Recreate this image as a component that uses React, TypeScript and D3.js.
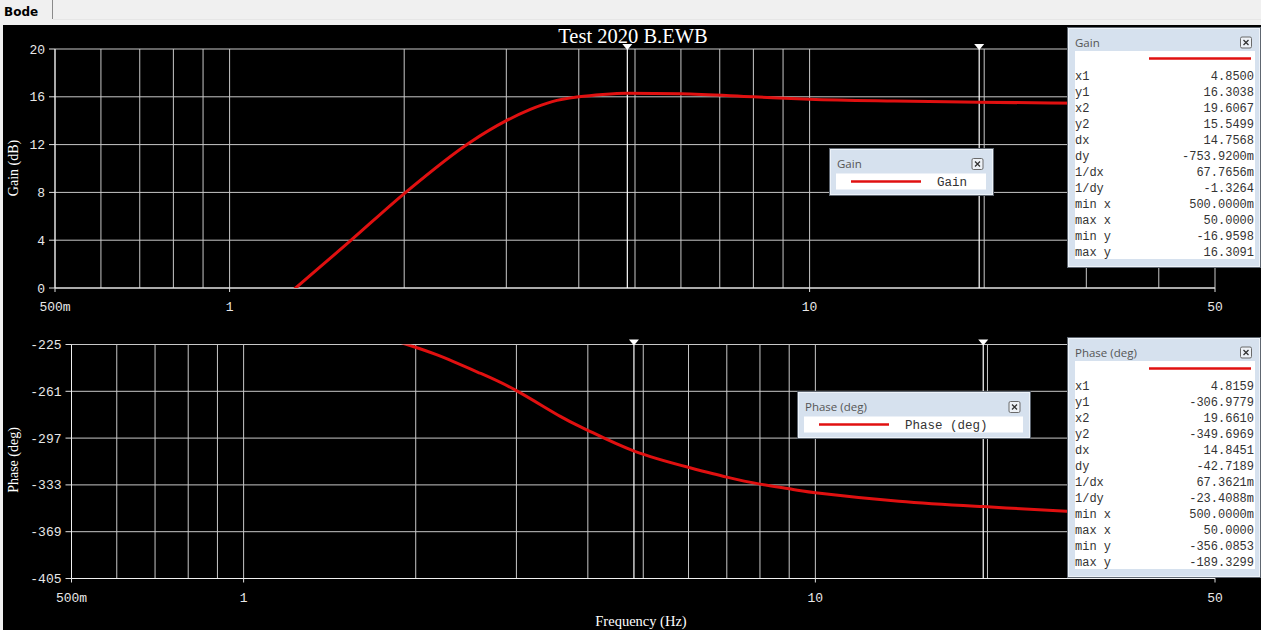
import React from "react";
import * as d3 from "d3";

// ---------- data ----------
const gainFreq = [0.5, 0.7, 1.0, 1.3, 1.62, 2.0, 2.6, 3.0, 3.3, 3.6, 4.0, 4.4, 4.85, 6.0, 8.0, 10, 14, 19.6, 30, 50];
const gainDb = [-16.96, -11.2, -4.8, 0.0, 4.0, 7.9, 12.2, 14.0, 14.95, 15.6, 16.0, 16.2, 16.3, 16.25, 16.0, 15.8, 15.65, 15.55, 15.45, 15.35];

const phaseFreq = [0.5, 0.7, 1.0, 1.5, 1.9, 2.18, 2.59, 3.0, 3.58, 4.0, 4.82, 6.0, 7.0, 8.0, 9.0, 10, 14, 19.66, 27.5, 35, 50];
const phaseDeg = [-189.3, -192.5, -199, -212, -224, -233, -247, -260.5, -280.3, -291, -307, -319.5, -327, -332.4, -336, -339, -345.5, -349.7, -353.3, -355, -356.1];

const freqLabelValues = [0.5, 1, 10, 50];
const freqLabels = ["500m", "1", "10", "50"];
const gainTicks = [0, 4, 8, 12, 16, 20];
const phaseTicks = [-405, -369, -333, -297, -261, -225];

const gainCursors = [4.85, 19.6067];
const phaseCursors = [4.8159, 19.661];

const tableLabels = ["x1", "y1", "x2", "y2", "dx", "dy", "1/dx", "1/dy", "min x", "max x", "min y", "max y"];
const gainTableValues = ["4.8500", "16.3038", "19.6067", "15.5499", "14.7568", "-753.9200m", "67.7656m", "-1.3264", "500.0000m", "50.0000", "-16.9598", "16.3091"];
const phaseTableValues = ["4.8159", "-306.9779", "19.6610", "-349.6969", "14.8451", "-42.7189", "67.3621m", "-23.4088m", "500.0000m", "50.0000", "-356.0853", "-189.3299"];

// ---------- style ----------
const RED = "#e01010";
const GRID = "#c8c8c8";
const MONO = "'Liberation Mono', 'Courier New', monospace";
const SERIF = "'Liberation Serif', 'Times New Roman', serif";
const SANS = "'Open Sans', 'Noto Sans', sans-serif";

type PlotProps = {
  id: string;
  x0: number; x1: number; y0: number; y1: number;
  yDomain: [number, number];
  yTicks: number[];
  freqs: number[]; vals: number[];
  cursors: number[];
  yLabel: string;
  labelY: number;
  curve: d3.CurveFactory;
};

function Plot(p: PlotProps) {
  const x = d3.scaleLog().domain([0.5, 50]).range([p.x0, p.x1]);
  const y = d3.scaleLinear().domain(p.yDomain).range([p.y1, p.y0]);
  const gridX = x.ticks();
  const line = d3.line<number>().x((_, i) => x(p.freqs[i])).y((v) => y(v)).curve(p.curve);
  return (
    <g>
      <defs>
        <clipPath id={p.id}>
          <rect x={p.x0} y={p.y0} width={p.x1 - p.x0} height={p.y1 - p.y0} />
        </clipPath>
      </defs>
      {gridX.map((f, i) => (
        <line key={"gx" + i} x1={x(f)} x2={x(f)} y1={p.y0} y2={p.y1} stroke={GRID} strokeWidth={1} />
      ))}
      {p.yTicks.map((t, i) => (
        <g key={"gy" + i}>
          <line x1={p.x0} x2={p.x1} y1={y(t)} y2={y(t)} stroke={GRID} strokeWidth={1} />
          <line x1={p.x0 - 6} x2={p.x0} y1={y(t)} y2={y(t)} stroke="#e0e0e0" />
          <text x={p.x0 - 10} y={y(t)} dy="0.35em" textAnchor="end" fill="#e8e8e8" fontFamily={MONO} fontSize={13}>{t}</text>
        </g>
      ))}
      <line x1={p.x0} x2={p.x0} y1={p.y0} y2={p.y1} stroke="#f0f0f0" />
      <line x1={p.x0} x2={p.x1} y1={p.y1} y2={p.y1} stroke="#f0f0f0" />
      {freqLabelValues.map((f, i) => (
        <g key={"xl" + i}>
          <line x1={x(f)} x2={x(f)} y1={p.y1} y2={p.y1 + 4} stroke="#e0e0e0" />
          <text x={x(f)} y={p.y1 + 23} textAnchor="middle" fill="#e8e8e8" fontFamily={MONO} fontSize={13}>{freqLabels[i]}</text>
        </g>
      ))}
      {p.cursors.map((c, i) => (
        <g key={"c" + i}>
          <line x1={x(c)} x2={x(c)} y1={p.y0} y2={p.y1} stroke="#ffffff" strokeWidth={1.2} />
          <path d={`M${x(c) - 5},${p.y0 - 5} L${x(c) + 5},${p.y0 - 5} L${x(c)},${p.y0 + 1} Z`} fill="#ffffff" />
        </g>
      ))}
      <path d={line(p.vals) || ""} fill="none" stroke={RED} strokeWidth={3} clipPath={`url(#${p.id})`} />
      <text transform={`translate(18,${p.labelY}) rotate(-90)`} textAnchor="middle" fill="#ffffff" fontFamily={SERIF} fontSize={14}>{p.yLabel}</text>
    </g>
  );
}

function CloseBtn({ cx, cy }: { cx: number; cy: number }) {
  return (
    <g>
      <rect x={cx - 5.5} y={cy - 5.5} width={11} height={11} rx={1.5} fill="#eef2f7" stroke="#6a6a6a" />
      <path d={`M${cx - 2.5},${cy - 2.5} L${cx + 2.5},${cy + 2.5} M${cx + 2.5},${cy - 2.5} L${cx - 2.5},${cy + 2.5}`} stroke="#333" strokeWidth={1.3} />
    </g>
  );
}

function CursorTable({ left, top, title, values }: { left: number; top: number; title: string; values: string[] }) {
  const w = 193, h = 240;
  return (
    <g>
      <rect x={left + 0.5} y={top + 0.5} width={w} height={h} fill="#d6e1ee" stroke="#5e6670" />
      <rect x={left + 1.5} y={top + 1.5} width={w - 2} height={h - 2} fill="none" stroke="#eef3f9" />
      <text x={left + 8} y={top + 15.5} dy="0.35em" fill="#555" fontFamily={SANS} fontSize={11.5}>{title}</text>
      <CloseBtn cx={left + 179} cy={top + 15.5} />
      <rect x={left + 8} y={top + 24} width={180} height={208} fill="#ffffff" />
      <line x1={left + 82} x2={left + 184} y1={top + 31.5} y2={top + 31.5} stroke={RED} strokeWidth={2.5} />
      {tableLabels.map((lab, i) => (
        <g key={i}>
          <text x={left + 8} y={top + 48.5 + i * 16} dy="0.35em" fill="#333" fontFamily={MONO} fontSize={12}>{lab}</text>
          <text x={left + 187} y={top + 48.5 + i * 16} dy="0.35em" textAnchor="end" fill="#333" fontFamily={MONO} fontSize={12}>{values[i]}</text>
        </g>
      ))}
    </g>
  );
}

function Legend({ left, top, w, title, label }: { left: number; top: number; w: number; title: string; label: string }) {
  return (
    <g>
      <rect x={left + 0.5} y={top + 0.5} width={w} height={47} fill="#d6e1ee" stroke="#5e6670" />
      <rect x={left + 1.5} y={top + 1.5} width={w - 2} height={45} fill="none" stroke="#eef3f9" />
      <text x={left + 8} y={top + 16} dy="0.35em" fill="#555" fontFamily={SANS} fontSize={11.5}>{title}</text>
      <CloseBtn cx={left + w - 15.5} cy={top + 16} />
      <rect x={left + 7} y={top + 25.5} width={w - 14} height={16} fill="#ffffff" />
      <line x1={left + 22} x2={left + 92} y1={top + 33.5} y2={top + 33.5} stroke={RED} strokeWidth={2.5} />
      <text x={left + 108} y={top + 33.5} dy="0.35em" fill="#333" fontFamily={MONO} fontSize={12.5}>{label}</text>
    </g>
  );
}

export default function App() {
  return (
    <svg width={1261} height={630} style={{ position: "absolute", left: 0, top: 0, display: "block" }}>
      <rect x={0} y={0} width={1261} height={630} fill="#f0f0f0" />
      <text x={4} y={12} dy="0.35em" fill="#000" fontFamily="'DejaVu Sans', sans-serif" fontWeight="bold" fontSize={12}>Bode</text>
      <line x1={52.5} x2={52.5} y1={0} y2={19} stroke="#8a8a8a" />
      <line x1={53} x2={1261} y1={19.5} y2={19.5} stroke="#e6e6e6" />
      <rect x={3} y={25} width={1258} height={605} fill="#000000" />
      <text x={633} y={43} textAnchor="middle" fill="#ffffff" fontFamily={SERIF} fontSize={20.5}>Test 2020 B.EWB</text>

      <Plot id="cg" x0={55} x1={1215} y0={49} y1={288} yDomain={[0, 20]} yTicks={gainTicks}
        freqs={gainFreq} vals={gainDb} cursors={gainCursors} yLabel="Gain (dB)" labelY={168} curve={d3.curveMonotoneX} />
      <Plot id="cp" x0={71.5} x1={1215} y0={344.5} y1={578.5} yDomain={[-405, -225]} yTicks={phaseTicks}
        freqs={phaseFreq} vals={phaseDeg} cursors={phaseCursors} yLabel="Phase (deg)" labelY={460} curve={d3.curveNatural} />

      <text x={641} y={626} textAnchor="middle" fill="#ffffff" fontFamily={SERIF} fontSize={14.5}>Frequency (Hz)</text>

      <Legend left={829} top={148} w={164} title="Gain" label="Gain" />
      <Legend left={797} top={391} w={233} title="Phase (deg)" label="Phase (deg)" />

      <CursorTable left={1067} top={27} title="Gain" values={gainTableValues} />
      <CursorTable left={1067} top={337} title="Phase (deg)" values={phaseTableValues} />
    </svg>
  );
}
